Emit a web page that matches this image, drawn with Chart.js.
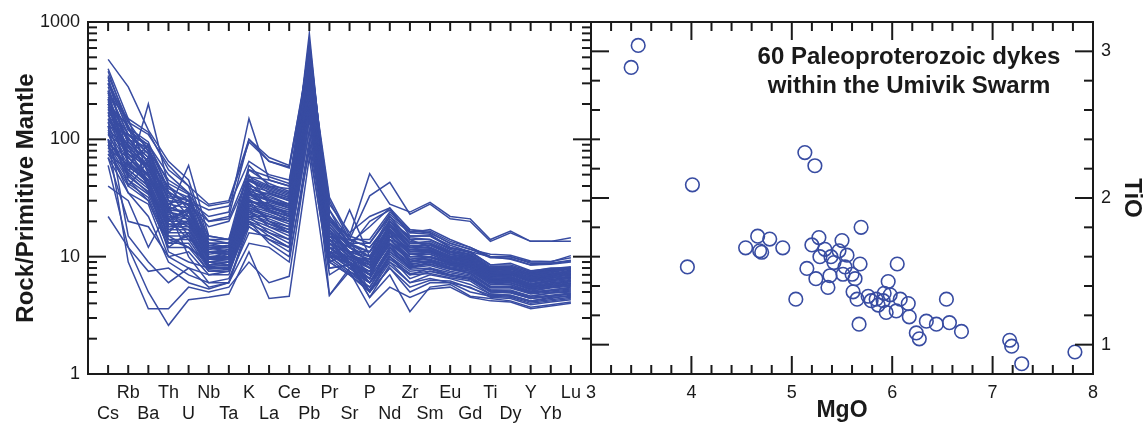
<!DOCTYPE html>
<html>
<head>
<meta charset="utf-8">
<script src="https://cdn.jsdelivr.net/npm/chart.js@4.4.1/dist/chart.umd.min.js"></script>
<style>
  html, body { margin: 0; padding: 0; background: #fff; }
  #wrap { position: relative; width: 1144px; height: 424px; overflow: hidden; }
  canvas { position: absolute; top: 0; }
  #spider { left: 0; }
  #scatter { left: 577px; }
</style>
</head>
<body>
<div id="wrap">
  <canvas id="spider" width="600" height="424"></canvas>
  <canvas id="scatter" width="567" height="424"></canvas>
</div>
<script>
// ---------------- data ----------------
const elements = ["Cs","Rb","Ba","Th","U","Nb","Ta","K","La","Ce","Pb","Pr","Sr","P","Nd","Zr","Sm","Eu","Gd","Ti","Dy","Y","Yb","Lu"];

// rock / primitive mantle, one row per dyke (order as in elements)
const spiderSamples = [
  [300,140,110,60,40,28,30,100,70,60,500,32,15,51,28,24,29,22,21,14,16.5,13.5,13.5,14.5],
  [200,110,90,50,35,27,29,95,65,57,450,30,14,33,43,23,28,21,20,13.5,16,13.5,13.5,13.5],
  [250,110,80,35,30,22,24,150,45,40,600,25,12,20,25,16,17,14,12,10,10,9,9,10.2],
  [180,100,70,30,28,20,22,100,65,58,550,22,13,18,26,17,16,13,11.5,10.5,10.3,9.2,9.1,9.8],
  [150,90,65,40,30,25,27,65,50,45,400,28,16,22,26,15,15,12.5,11,10,9.5,8.5,8.8,9.2],
  [480,280,120,65,45,14,14,60,40,38,650,22,14,12,20,15,15,12,11,8.5,8.5,7.5,8,8],
  [400,150,115,55,40,13,13,55,42,36,600,20,13,11,22,14,14,11.5,10.5,8,8.2,7.4,7.8,8.1],
  [350,140,80,45,35,12,12,45,38,33,550,18,12,10,19,13,13,11,10,7.8,8,7,7.5,7.8],
  [300,120,85,38,32,11,11.5,40,36,32,500,17,11,9.5,18,12.5,12.5,10.5,9.8,7.6,7.8,6.8,7.2,7.6],
  [100,50,200,40,25,12,12,35,30,28,450,15,12,10,17,12,12,10,9.5,7.5,7.5,6.6,7,7.4],
  [260,110,75,33,30,10.5,11,38,34,30,480,16,10.5,9,17,12,12,10.2,9.5,7.3,7.4,6.5,6.9,7.2],
  [220,100,70,30,28,10,10.5,36,32,28,420,15,10,8.5,16,11.5,11.5,9.8,9.2,7.1,7.2,6.3,6.7,7],
  [200,95,65,28,26,10,10,34,30,27,400,14,10,8,15,11,11,9.5,9,6.9,7,6.1,6.5,6.8],
  [180,85,60,25,24,9.5,10,32,28,25,380,13,9.5,8,15,10.5,10.5,9.2,8.7,6.7,6.8,5.9,6.3,6.6],
  [160,80,55,24,22,9.5,9.5,30,27,24,350,13,9,7.5,14,10,10,9,8.5,6.5,6.6,5.8,6.1,6.4],
  [150,75,50,22,21,9,9.5,28,25,22,320,12,9,7,13,9.5,9.8,8.7,8.2,6.3,6.4,5.6,5.9,6.2],
  [140,70,48,20,20,9,9,27,24,21,300,12,8.5,7,13,9.2,9.5,8.5,8,6.1,6.2,5.4,5.7,6],
  [130,65,45,19,19,8.5,9,26,23,20,280,11,8.5,6.5,12,9,9.2,8.2,7.7,6,6,5.2,5.5,5.8],
  [120,60,42,18,18,8.5,8.5,25,22,19,260,11,8,6.5,12,8.7,9,8,7.5,5.8,5.8,5.1,5.4,5.6],
  [110,55,40,17,17,8.2,8.5,24,21,18,240,10.5,8,6,11,8.4,8.7,7.8,7.3,5.6,5.6,4.9,5.2,5.4],
  [100,52,38,16,16,8,8.2,23,20,17,220,10,7.5,6,11,8,8.4,7.5,7,5.4,5.4,4.8,5,5.2],
  [90,48,36,15,15,8,8,22,19,16,200,10,7.5,5.5,10.5,7.8,8,7.3,6.8,5.2,5.2,4.6,4.9,5],
  [85,45,34,14,14,7.8,8,21,18,15,180,9.5,7.2,5.5,10,7.5,7.8,7,6.6,5.1,5,4.5,4.7,4.9],
  [80,42,32,13,13,7.5,7.8,20,17,14,160,9,7,5.2,9.5,7.2,7.5,6.8,6.4,5,4.9,4.4,4.6,4.8],
  [75,40,30,12,12,7.5,7.5,19,16,13,150,9,7,5,9,7,7.2,6.6,6.2,4.8,4.7,4.2,4.5,4.6],
  [250,60,90,20,25,13,12,50,28,22,300,14,12,9,18,13,13,11,10.5,8,8,7.2,7.6,8],
  [320,130,60,35,22,11,10,28,20,16,250,12,11,11,17,12,13,10.5,10,7.8,7.6,6.9,7.3,7.9],
  [90,70,80,25,30,15,14,45,35,30,700,20,15,13,22,16,15.5,12,11,8.5,8.8,7.6,7.9,8.2],
  [200,130,40,15,12,9,9.5,18,14,12,150,10,9,6,12,8,9,8,7.5,6,5.8,5,5.5,5.7],
  [170,50,35,22,18,12,11,42,30,26,500,16,13,8.5,15,10.5,11,9.5,9,7,7,6.2,6.6,7.2],
  [280,90,55,28,33,13,13,30,26,24,600,18,11,7,20,14,12,10,9.6,7.4,7.5,6.5,7,7.5],
  [130,110,75,18,20,9.5,10,48,40,35,350,17,10.5,8,14,9.5,10,9,8.5,6.6,6.5,5.7,6.2,6.9],
  [70,35,28,10,11,7,7.5,20,15,12,120,8,8.5,4.5,8.5,6,6.5,6,5.5,4.5,4.4,3.9,4.1,4.3],
  [220,45,30,12,16,8.5,9,25,18,16,200,11,9,5,10,6.5,7.5,7,6.6,5.2,5.1,4.6,4.9,5.1],
  [160,100,85,30,20,11,10.5,33,35,31,450,19,12,9,19,12,12.5,10.5,9.6,7.2,7.5,6.7,7.1,7.7],
  [110,80,60,20,26,10,10,40,25,20,250,13,9.5,7.5,15,11,11,9.5,8.8,6.8,6.7,5.8,6.3,6.5],
  [95,58,45,14,12,9,8.5,30,20,18,280,11,10,8,13,10,10.5,9,8.5,6.4,6.2,5.5,5.9,6.3],
  [340,70,50,26,15,10,9.5,22,22,20,380,14,9,6.5,16,9,10,8.8,8.2,6.2,6.3,5.5,5.8,6.1],
  [140,40,65,16,24,14,13,35,27,23,180,12,8.5,7.5,12.5,8.5,9.3,8.4,7.8,6,6,5.3,5.6,5.9],
  [75,55,40,11,9,8,8,26,22,20,330,13,11,10,14,12,11.2,9.8,9,6.8,7,6.1,6.4,6.7],
  [240,150,50,21,14,12,11,36,25,22,420,15,14,12,19,13.5,12.8,10.8,10.2,7.7,7.8,7,7.4,8],
  [190,65,42,17,20,11,11,38,33,28,260,14,10,9,18,12,12,10,9.3,7,7.1,6.2,6.6,7],
  [120,85,60,32,28,18,20,48,45,40,500,25,14,14,24,17,16.5,13.5,12,10,10,8.8,8.8,9.3],
  [300,120,90,42,34,20,21,55,48,42,550,22,13,13,23,16.5,16,13,11.6,9.8,9.7,8.5,8.6,9],
  [210,75,58,26,24,11.5,12,42,31,27,800,16,11,8,16,11,11.5,9.7,9.1,7,7.2,6.3,6.8,7.3],
  [170,105,52,23,19,10,10,29,29,26,330,14,10,9.5,17,12,11.8,10,9.4,7.3,7.3,6.4,6.9,7.5],
  [260,62,44,19,17,9.5,9.5,31,24,21,240,12,9.5,7,14,10,10,8.9,8.3,6.4,6.4,5.6,6,6.2],
  [115,48,70,27,22,12.5,12,44,37,32,520,19,12.5,11,20,13,13.5,11.2,10.4,7.9,8.1,7.1,7.6,8],
  [145,88,38,13,15,8.5,9,24,19,17,190,10.5,8.5,6,11.5,8.2,8.6,7.8,7.2,5.5,5.5,4.9,5.1,5.3],
  [380,125,95,36,27,12,12.5,46,39,34,580,21,13,10,21,14.5,14,11.8,10.8,8.2,8.3,7.3,7.7,8.1],
  [85,60,50,21,25,10,10,34,26,23,270,13,9,6.5,15,10.5,10.8,9.3,8.6,6.5,6.6,5.7,6.2,6.6],
  [230,95,65,24,21,11,10.5,37,30,26,360,15,10.5,8.5,16.5,11.2,11.3,9.7,9,6.9,7,6.1,6.6,7.1],
  [60,12,5,2.6,4.3,4.5,4.8,11,4.4,4.6,70,4.7,7.5,3.7,5.5,4.5,5.3,5.5,4.5,4.2,4.1,3.6,3.8,4],
  [100,9,3.6,3.6,5.5,5,5.5,9,6,6.8,90,7,9,4.5,7,3.4,5.5,5.8,4.6,4.4,4.2,3.7,3.9,4.1],
  [22,12,7.5,8,6,5.3,6,13,12,9,100,9,11,5,8,5,6,6,5,4.6,4.5,4,4.2,4.4],
  [40,30,12,25,10,6,6.5,16,15,12,120,10,10,6,9,6,7,6.5,5.8,4.8,4.7,4.2,4.4,4.7],
  [130,15,9,6,8,5.5,6,20,13,10,80,8,8.5,5,8,5.5,6.3,6.2,5.4,4.7,4.6,4.1,4.3,4.5],
  [200,70,45,25,60,15,14,30,25,22,300,12,9,7,14,9,10,8.6,8,6.2,6,5.3,5.6,5.9],
  [90,35,22,9,7,6,6,18,14,11,150,10,25,10,13,8,9,8,7.2,5.5,5.6,5,5.2,5.5],
  [70,20,18,10,8,7,7,22,16,14,200,4.7,8,6,10,7,8,7,6.5,5,5,4.4,4.6,4.8]
];

// TiO vs MgO, 60 dykes
const mgo = [3.47,3.40,5.13,5.23,4.01,5.69,3.96,4.54,4.66,4.78,4.91,4.68,4.70,5.04,5.15,5.20,5.27,5.24,5.33,5.28,
             5.38,5.36,5.39,5.42,5.47,5.50,5.55,5.53,5.51,5.60,5.63,5.61,5.68,5.65,5.76,5.79,5.86,5.91,5.96,5.98,
             5.94,6.05,6.04,6.08,6.16,6.17,5.67,6.24,6.27,6.34,6.44,6.54,6.57,6.69,7.17,7.19,7.29,7.82,5.84,5.92];
const tio = [3.04,2.89,2.31,2.22,2.09,1.80,1.53,1.66,1.74,1.72,1.66,1.64,1.63,1.31,1.52,1.68,1.73,1.45,1.65,1.60,
             1.47,1.39,1.60,1.56,1.64,1.71,1.61,1.53,1.48,1.48,1.45,1.36,1.55,1.31,1.33,1.30,1.27,1.30,1.43,1.34,
             1.22,1.55,1.23,1.31,1.28,1.19,1.14,1.08,1.04,1.16,1.14,1.31,1.15,1.09,1.03,0.99,0.87,0.95,1.31,1.35];

const spiderTicks = [1, 10, 100, 1000];
const mgoTicks = [3, 4, 5, 6, 7, 8];
const tioTicks = [1, 2, 3];

// ---------------- style ----------------
const INK = "#1a1a1a";
const BLUE = "rgb(56,76,162)";
Chart.defaults.font.family = "'Liberation Sans', Arial, sans-serif";
Chart.defaults.color = INK;

function seg(ctx, x1, y1, x2, y2) {
  ctx.beginPath(); ctx.moveTo(x1, y1); ctx.lineTo(x2, y2); ctx.stroke();
}

function frame(ctx, a) {
  ctx.strokeStyle = INK;
  ctx.lineWidth = 2;
  ctx.strokeRect(a.left, a.top, a.right - a.left, a.bottom - a.top);
}

// ---------------- left: spider diagram ----------------
const spiderFrame = {
  id: "spiderFrame",
  afterDraw(chart) {
    const { ctx, chartArea: a, scales } = chart;
    ctx.save();
    frame(ctx, a);
    // category ticks top & bottom, pointing in
    elements.forEach((e, i) => {
      const px = scales.x.getPixelForValue(i);
      seg(ctx, px, a.bottom, px, a.bottom - 9);
      seg(ctx, px, a.top, px, a.top + 9);
    });
    // log ticks on both sides
    for (let d = 1; d <= 1000; d *= 10) {
      for (let m = 1; m <= 9; m++) {
        const v = d * m;
        if (v > 1000) break;
        const len = m === 1 ? 18 : 9;
        const py = scales.y.getPixelForValue(v);
        seg(ctx, a.left, py, a.left + len, py);
        seg(ctx, a.right, py, a.right - len, py);
      }
    }
    ctx.restore();
  }
};

new Chart(document.getElementById("spider"), {
  type: "line",
  data: {
    datasets: spiderSamples.map(row => ({
      data: row.map((v, i) => ({ x: i, y: v })),
      borderColor: BLUE,
      borderWidth: 1.5,
      pointRadius: 0,
      tension: 0,
      fill: false
    }))
  },
  options: {
    responsive: false,
    animation: false,
    events: [],
    layout: { padding: { left: 0, right: 9, top: 22, bottom: 0 } },
    plugins: { legend: { display: false }, tooltip: { enabled: false } },
    scales: {
      x: {
        type: "linear", min: -1, max: 24,
        grid: { display: false, drawTicks: false },
        border: { display: false },
        afterBuildTicks: s => { s.ticks = elements.map((e, i) => ({ value: i })); },
        afterFit: s => { s.height = 50; },
        ticks: {
          autoSkip: false, maxRotation: 0, minRotation: 0, padding: 9,
          font: { size: 18, lineHeight: 1.15 },
          callback: v => (v % 2 ? [elements[v], ""] : ["", elements[v]])
        }
      },
      y: {
        type: "logarithmic", min: 1, max: 1000,
        grid: { display: false, drawTicks: false },
        border: { display: false },
        afterBuildTicks: s => { s.ticks = spiderTicks.map(v => ({ value: v })); },
        afterFit: s => { s.width = 88; },
        ticks: { padding: 8, font: { size: 18 }, callback: v => String(v) },
        title: {
          display: true, text: "Rock/Primitive Mantle",
          font: { size: 24, weight: "bold", lineHeight: 1.2 },
          padding: { top: 12, bottom: 0 }
        }
      }
    }
  },
  plugins: [spiderFrame]
});

// ---------------- right: TiO vs MgO ----------------
const scatterFrame = {
  id: "scatterFrame",
  afterDraw(chart) {
    const { ctx, chartArea: a, scales } = chart;
    ctx.save();
    frame(ctx, a);
    for (let k = 15; k <= 40; k++) {
      const px = scales.x.getPixelForValue(k / 5);
      const len = k % 5 === 0 ? 18 : 9;
      seg(ctx, px, a.bottom, px, a.bottom - len);
      seg(ctx, px, a.top, px, a.top + len);
    }
    for (let k = 4; k <= 16; k++) {
      const py = scales.y.getPixelForValue(k / 5);
      const len = k % 5 === 0 ? 18 : 9;
      seg(ctx, a.left, py, a.left + len, py);
      seg(ctx, a.right, py, a.right - len, py);
    }
    // annotation
    ctx.fillStyle = INK;
    ctx.font = "bold 24px 'Liberation Sans', Arial, sans-serif";
    ctx.textAlign = "center";
    ctx.textBaseline = "alphabetic";
    const cx = 909 - 577;
    ctx.fillText("60 Paleoproterozoic dykes", cx, 64);
    ctx.fillText("within the Umivik Swarm", cx, 93);
    ctx.restore();
  }
};

new Chart(document.getElementById("scatter"), {
  type: "scatter",
  data: {
    datasets: [{
      data: mgo.map((m, i) => ({ x: m, y: tio[i] })),
      pointStyle: "circle",
      pointRadius: 6.8,
      borderWidth: 1.6,
      borderColor: BLUE,
      backgroundColor: "rgba(0,0,0,0)"
    }]
  },
  options: {
    responsive: false,
    animation: false,
    events: [],
    layout: { padding: { left: 14, right: 0, top: 22, bottom: 0 } },
    plugins: { legend: { display: false }, tooltip: { enabled: false } },
    scales: {
      x: {
        type: "linear", min: 3, max: 8, position: "bottom",
        grid: { display: false, drawTicks: false },
        border: { display: false },
        afterBuildTicks: s => { s.ticks = mgoTicks.map(v => ({ value: v })); },
        afterFit: s => { s.height = 50; },
        ticks: { autoSkip: false, maxRotation: 0, padding: 9, font: { size: 18, lineHeight: 1.15 } },
        title: {
          display: true, text: "MgO",
          font: { size: 23, weight: "bold", lineHeight: 1.2 },
          padding: { top: 0, bottom: 0 }
        }
      },
      y: {
        type: "linear", min: 0.8, max: 3.2, position: "right",
        grid: { display: false, drawTicks: false },
        border: { display: false },
        afterBuildTicks: s => { s.ticks = tioTicks.map(v => ({ value: v })); },
        afterFit: s => { s.width = 51; },
        ticks: { padding: 8, font: { size: 18 } },
        title: {
          display: true, text: "TiO",
          font: { size: 24, weight: "bold", lineHeight: 1 },
          padding: { top: 0, bottom: 0 }
        }
      }
    }
  },
  plugins: [scatterFrame]
});
</script>
</body>
</html>
